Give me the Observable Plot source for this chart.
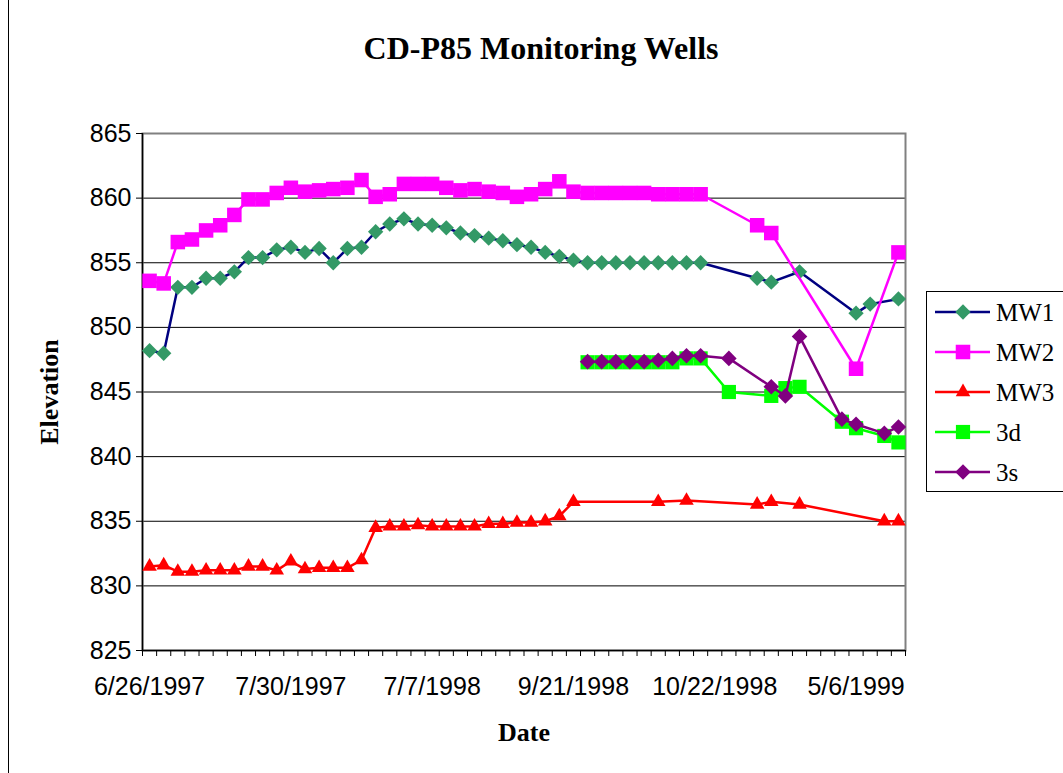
<!DOCTYPE html>
<html>
<head>
<meta charset="utf-8">
<script src="https://cdn.jsdelivr.net/npm/d3@7"></script>
<script src="https://cdn.jsdelivr.net/npm/@observablehq/plot@0.6"></script>
<style>
  html, body { margin: 0; padding: 0; background: white; }
  #wrap { position: relative; width: 1063px; height: 773px; overflow: hidden; background: white; }
  #border { position: absolute; left: 8px; top: 0; width: 1px; height: 773px; background: black; }
  #legend { position: absolute; left: 926px; top: 291px; width: 150px; height: 199px; border: 1px solid black; background: white; }
</style>
</head>
<body>
<div id="wrap"><div id="border"></div><div id="chart"></div><div id="legend"></div></div>
<script>
// Category labels (only every 10th is shown on the axis)
const dates = [
  "6/26/1997","6/30/1997","7/3/1997","7/7/1997","7/10/1997","7/14/1997","7/17/1997","7/21/1997","7/24/1997","7/28/1997",
  "7/30/1997","8/4/1997","8/11/1997","8/18/1997","8/25/1997","9/8/1997","5/26/1998","6/9/1998","6/16/1998","6/23/1998",
  "7/7/1998","7/14/1998","7/21/1998","7/28/1998","8/4/1998","8/11/1998","8/18/1998","8/25/1998","9/1/1998","9/8/1998",
  "9/21/1998","9/24/1998","9/28/1998","10/1/1998","10/5/1998","10/8/1998","10/12/1998","10/15/1998","10/19/1998","10/20/1998",
  "10/22/1998","11/5/1998","11/19/1998","12/3/1998","12/17/1998","1/7/1999","1/21/1999","2/18/1999","3/18/1999","4/15/1999",
  "5/6/1999","5/20/1999","6/3/1999","6/17/1999"
];
const _ = null;
const MW1 = [
  848.2, 848.0, 853.1, 853.1, 853.8, 853.8, 854.3, 855.4, 855.4, 856.0,
  856.2, 855.8, 856.1, 855.0, 856.1, 856.2, 857.4, 858.0, 858.4, 858.0,
  857.9, 857.7, 857.3, 857.1, 856.9, 856.7, 856.4, 856.2, 855.8, 855.5,
  855.2, 855.0, 855.0, 855.0, 855.0, 855.0, 855.0, 855.0, 855.0, 855.0,
  _, _, _, 853.8, 853.5, _, 854.3, _, _, _,
  851.1, 851.8, _, 852.2
];
const MW2 = [
  853.6, 853.4, 856.6, 856.8, 857.5, 857.9, 858.7, 859.9, 859.9, 860.4,
  860.8, 860.5, 860.6, 860.7, 860.8, 861.4, 860.1, 860.3, 861.1, 861.1,
  861.1, 860.8, 860.6, 860.7, 860.5, 860.4, 860.1, 860.3, 860.7, 861.3,
  860.5, 860.4, 860.4, 860.4, 860.4, 860.4, 860.3, 860.3, 860.3, 860.3,
  _, _, _, 857.9, 857.3, _, _, _, _, _,
  846.8, _, _, 855.8
];
const MW3 = [
  831.5, 831.6, 831.1, 831.1, 831.2, 831.2, 831.2, 831.5, 831.5, 831.2,
  831.9, 831.3, 831.4, 831.4, 831.4, 832.0, 834.5, 834.6, 834.6, 834.7,
  834.6, 834.6, 834.6, 834.6, 834.8, 834.8, 834.9, 834.9, 835.0, 835.4,
  836.5, _, _, _, _, _, 836.5, _, 836.6, _,
  _, _, _, 836.3, 836.5, _, 836.3, _, _, _,
  _, _, 835.0, 835.0
];
const W3d = [
  _, _, _, _, _, _, _, _, _, _,
  _, _, _, _, _, _, _, _, _, _,
  _, _, _, _, _, _, _, _, _, _,
  _, 847.3, 847.3, 847.3, 847.3, 847.3, 847.3, 847.3, 847.6, 847.6,
  _, 845.0, _, _, 844.7, 845.3, 845.4, _, _, 842.7,
  842.2, _, 841.6, 841.1
];
const W3s = [
  _, _, _, _, _, _, _, _, _, _,
  _, _, _, _, _, _, _, _, _, _,
  _, _, _, _, _, _, _, _, _, _,
  _, 847.35, 847.35, 847.35, 847.35, 847.35, 847.45, 847.6, 847.8, 847.8,
  _, 847.6, _, _, 845.4, 844.7, 849.3, _, _, 842.9,
  842.5, _, 841.8, 842.3
];
const yTicks = [825, 830, 835, 840, 845, 850, 855, 860, 865];
const labelEvery = 10;

const seriesDefs = [
  {name: "MW1", values: MW1, line: "#000080", fill: "#339966", symbol: "diamond2", r: 6.9},
  {name: "MW2", values: MW2, line: "#FF00FF", fill: "#FF00FF", symbol: "square", r: 8.2},
  {name: "MW3", values: MW3, line: "#FF0000", fill: "#FF0000", symbol: "triangle", r: 5.4},
  {name: "3d",  values: W3d, line: "#00FF00", fill: "#00FF00", symbol: "square", r: 8.0},
  {name: "3s",  values: W3s, line: "#800080", fill: "#800080", symbol: "diamond2", r: 7.0}
];

const n = dates.length;
const idx = d3.range(n);
const boundaries = d3.range(n + 1).map(k => k - 0.5);
const labelIdx = idx.filter(i => i % labelEvery === 0);

const seriesMarks = seriesDefs.flatMap(s => {
  const data = idx.filter(i => s.values[i] != null).map(i => ({i, v: s.values[i]}));
  return [
    Plot.line(data, {x: "i", y: "v", stroke: s.line, strokeWidth: 2.5}),
    Plot.dot(data, {x: "i", y: "v", symbol: () => s.symbol, fill: s.fill, stroke: "none", r: s.r})
  ];
});

const serif = "'Liberation Serif', 'Times New Roman', serif";
const chart = Plot.plot({
  width: 1063,
  height: 773,
  marginLeft: 142,
  marginRight: 158,
  marginTop: 133,
  marginBottom: 123,
  style: {fontFamily: "'Liberation Sans', Arial, sans-serif", fontSize: "25px", color: "black", background: "transparent", overflow: "visible"},
  x: {type: "linear", domain: [-0.5, n - 0.5]},
  y: {domain: [825, 865]},
  symbol: {type: "identity"},
  marks: [
    Plot.ruleY(yTicks, {stroke: "black", strokeWidth: 1}),
    Plot.frame({stroke: "#808080", strokeWidth: 2}),
    Plot.ruleX([-0.5], {stroke: "black", strokeWidth: 1.5}),
    Plot.ruleY([825], {stroke: "black", strokeWidth: 1.5}),
    Plot.axisY({ticks: yTicks, tickSize: 6, tickPadding: 5, label: null, fontSize: 25, stroke: "black"}),
    Plot.axisX({ticks: boundaries, tickSize: 6, tickFormat: () => "", label: null, stroke: "black"}),
    Plot.axisX({ticks: labelIdx, tickSize: 0, tickPadding: 27, tickFormat: i => dates[i], label: null, fontSize: 25}),
    ...seriesMarks,
    Plot.text(["CD-P85 Monitoring Wells"], {frameAnchor: "top", lineAnchor: "middle", textAnchor: "middle", dy: -85, dx: 17, fontFamily: serif, fontWeight: "bold", fontSize: 32, fill: "black"}),
    Plot.text(["Elevation"], {frameAnchor: "left", lineAnchor: "middle", textAnchor: "middle", dx: -93, rotate: -90, fontFamily: serif, fontWeight: "bold", fontSize: 26, fill: "black"}),
    Plot.text(["Date"], {frameAnchor: "bottom", lineAnchor: "middle", textAnchor: "middle", dy: 82, fontFamily: serif, fontWeight: "bold", fontSize: 26, fill: "black"})
  ]
});
document.getElementById("chart").appendChild(chart);

// Legend
const lg = d3.select("#legend").append("svg").attr("width", 150).attr("height", 199);
seriesDefs.forEach((s, k) => {
  const y = 20 + k * 40;
  lg.append("line").attr("x1", 8).attr("x2", 63).attr("y1", y).attr("y2", y)
    .attr("stroke", s.line).attr("stroke-width", 2.5);
  const sym = {diamond2: d3.symbolDiamond2, square: d3.symbolSquare, triangle: d3.symbolTriangle}[s.symbol];
  lg.append("path").attr("transform", `translate(36,${y})`)
    .attr("d", d3.symbol(sym, Math.PI * s.r * s.r)()).attr("fill", s.fill);
  lg.append("text").attr("x", 69).attr("y", y).attr("dy", "0.35em")
    .attr("font-family", serif).attr("font-size", 25)
    .text(s.name);
});
</script>
</body>
</html>
